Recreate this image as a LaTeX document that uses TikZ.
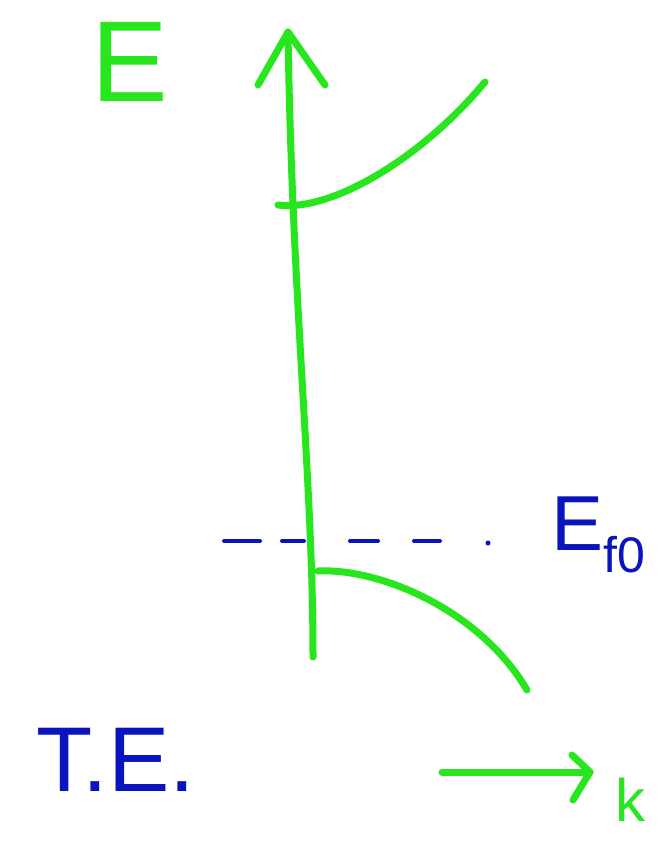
\documentclass[tikz,border=0pt]{standalone}
\usepackage{fontspec}
\setmainfont{Liberation Sans}
\definecolor{pen}{RGB}{40,230,30}
\definecolor{ink}{RGB}{10,20,190}
\begin{document}
\begin{tikzpicture}[x=1pt,y=-1pt,
  greenline/.style={draw=pen,line width=7pt,line cap=round,line join=round},
  blueline/.style={draw=ink,line width=4pt,line cap=round},
  lbl/.style={inner sep=0pt,anchor=center}]
\useasboundingbox[fill=white] (0,0) rectangle (665,845);
% coordinates
\coordinate (axbot) at (313,657);
\coordinate (axtop) at (288,32);
\coordinate (ahl) at (258,85);
\coordinate (ahr) at (325,85);
\coordinate (u0) at (278,205);
\coordinate (u1) at (485,82);
\coordinate (l0) at (318,571);
\coordinate (l1) at (527,690);
\coordinate (ka) at (442,772);
\coordinate (kb) at (590,772);
% energy axis
\draw[greenline] (axbot) .. controls (313,480) and (292,300) .. (axtop);
\draw[greenline] (ahl) -- (axtop) -- (ahr);
% upper band
\draw[greenline] (u0) .. controls (330,212) and (420,160) .. (u1);
% lower band
\draw[greenline] (l0) .. controls (380,568) and (480,610) .. (l1);
% Fermi level dashed
\coordinate (d0) at (224,541);
\coordinate (d1) at (440,541);
\draw[blueline,dash pattern=on 36pt off 22pt on 22pt off 46pt on 28pt off 36pt on 30pt off 100pt] (d0) -- (d1);
\fill[ink] (488,543) circle (2.5pt);
% k arrow
\draw[greenline] (ka) -- (kb);
\draw[greenline] (572,755) -- (kb) -- (573,800);
% labels
\node[lbl,text=pen,font=\fontsize{115}{115}\selectfont] (E) at (130,62) {E};
\node[lbl,text=ink,font=\fontsize{78}{78}\selectfont] (Ef) at (598,535) {E\raisebox{-22pt}{\fontsize{50}{50}\selectfont f0}};
\node[lbl,text=ink,font=\fontsize{92}{92}\selectfont] (TE) at (116,760) {T.E.};
\node[lbl,text=pen,font=\fontsize{60}{60}\selectfont] (k) at (630,800) {k};
\end{tikzpicture}
\end{document}
